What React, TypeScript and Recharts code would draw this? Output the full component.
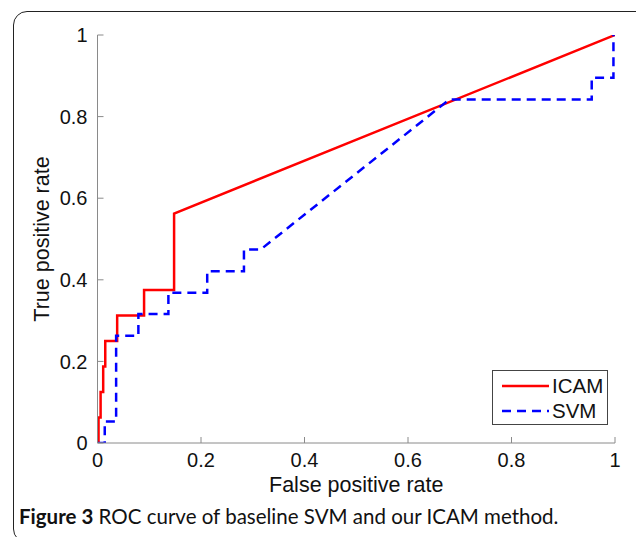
import React from 'react';
import { LineChart, Line, XAxis, YAxis, Label } from 'recharts';

// ROC points
const ICAM_FPR = [0, 0.002, 0.002, 0.006, 0.006, 0.011, 0.011, 0.015, 0.015, 0.038, 0.038, 0.09, 0.09, 0.148, 0.148, 1];
const ICAM_TPR = [0, 0, 0.0625, 0.0625, 0.125, 0.125, 0.1875, 0.1875, 0.25, 0.25, 0.3125, 0.3125, 0.375, 0.375, 0.5625, 1];

const SVM_FPR = [0, 0.014, 0.014, 0.036, 0.036, 0.079, 0.079, 0.137, 0.137, 0.212, 0.212, 0.283, 0.283, 0.315, 0.68, 0.955, 0.955, 0.997, 0.997];
const SVM_TPR = [0, 0, 0.053, 0.053, 0.263, 0.263, 0.316, 0.316, 0.368, 0.368, 0.421, 0.421, 0.474, 0.474, 0.842, 0.842, 0.895, 0.895, 1];

const TICKS = [0, 0.2, 0.4, 0.6, 0.8, 1];
const TICK_LABELS = ['0', '0.2', '0.4', '0.6', '0.8', '1'];

const icamData = ICAM_FPR.map((x, i) => ({ fpr: x, tpr: ICAM_TPR[i] }));
const svmData = SVM_FPR.map((x, i) => ({ fpr: x, tpr: SVM_TPR[i] }));

const AXIS = '#8a8a8a';
const FONT = '"Liberation Sans", Arial, sans-serif';
const tickStyle = { fill: '#111', fontSize: 20, fontFamily: FONT };
const fmt = (v: number) => TICK_LABELS[TICKS.indexOf(v)] ?? String(v);

const LegendBox = () => (
  <div
    style={{
      position: 'absolute',
      left: 492,
      top: 370,
      width: 114,
      height: 53,
      border: '1px solid #444',
      background: '#fff',
      fontFamily: FONT,
      fontSize: 20.5,
      color: '#111',
    }}
  >
    {[
      { name: 'ICAM', color: '#ff0000', dash: undefined },
      { name: 'SVM', color: '#0000ff', dash: '9 6' },
    ].map((s, i) => (
      <div key={s.name} style={{ position: 'absolute', left: 9, top: 4 + i * 25, height: 22, display: 'flex', alignItems: 'center' }}>
        <svg width={47} height={6}>
          <line x1={0} y1={3} x2={47} y2={3} stroke={s.color} strokeWidth={2.5} strokeDasharray={s.dash} />
        </svg>
        <span style={{ marginLeft: 3 }}>{s.name}</span>
      </div>
    ))}
  </div>
);

export default function App() {
  return (
    <div style={{ position: 'absolute', left: 0, top: 0, width: 636, height: 537, overflow: 'hidden', background: '#fff' }}>
      <div
        style={{
          position: 'absolute',
          left: 13,
          top: 11,
          width: 700,
          height: 530,
          border: '1.5px solid #222',
          borderRadius: 14,
        }}
      />
      <div style={{ position: 'absolute', left: 0, top: 0 }}>
        <LineChart width={636} height={537} margin={{ top: 35, right: 21, bottom: 0, left: 0 }}>
          <XAxis
            dataKey="fpr"
            type="number"
            domain={[0, 1]}
            ticks={TICKS}
            tickFormatter={fmt}
            allowDataOverflow
            height={94}
            tickSize={-6}
            tickMargin={16}
            stroke={AXIS}
            tick={tickStyle}
          >
            <Label
              value="False positive rate"
              position="insideTop"
              offset={34}
              style={{ fill: '#111', fontSize: 21.5, fontFamily: FONT }}
            />
          </XAxis>
          <XAxis
            xAxisId="top"
            orientation="top"
            type="number"
            domain={[0, 1]}
            ticks={TICKS}
            allowDataOverflow
            height={0}
            tickSize={-6}
            tick={false}
            stroke={AXIS}
          />
          <YAxis
            type="number"
            domain={[0, 1]}
            ticks={TICKS}
            tickFormatter={fmt}
            allowDataOverflow
            width={97.5}
            tickSize={-6}
            tickMargin={16}
            stroke={AXIS}
            tick={tickStyle}
          >
            <Label
              value="True positive rate"
              angle={-90}
              position="insideLeft"
              offset={41}
              style={{ fill: '#111', fontSize: 21.5, fontFamily: FONT, textAnchor: 'middle' }}
            />
          </YAxis>
          <YAxis
            yAxisId="right"
            orientation="right"
            type="number"
            domain={[0, 1]}
            ticks={TICKS}
            allowDataOverflow
            width={0}
            tickSize={-6}
            tick={false}
            stroke={AXIS}
          />
          <Line
            data={icamData}
            dataKey="tpr"
            type="linear"
            stroke="#ff0000"
            strokeWidth={2.5}
            dot={false}
            isAnimationActive={false}
          />
          <Line
            data={svmData}
            dataKey="tpr"
            type="linear"
            stroke="#0000ff"
            strokeWidth={2.5}
            strokeDasharray="9 6"
            dot={false}
            isAnimationActive={false}
          />
        </LineChart>
      </div>
      <LegendBox />
      <div
        style={{
          position: 'absolute',
          left: 19,
          top: 504,
          fontFamily: 'Lato, "Open Sans", sans-serif',
          fontSize: 20.5,
          color: '#111',
          whiteSpace: 'nowrap',
        }}
      >
        <b>Figure 3</b> ROC curve of baseline SVM and our ICAM method.
      </div>
    </div>
  );
}
